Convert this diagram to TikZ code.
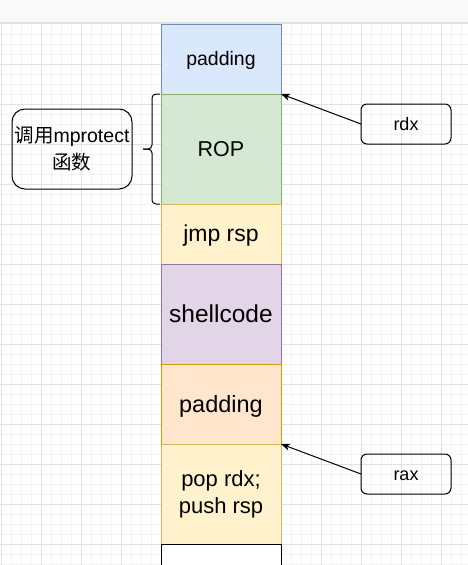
\documentclass[tikz,border=0pt]{standalone}
\usepackage{fontspec}
\setmainfont{Liberation Sans}
\newfontfamily\cjk{Noto Sans CJK SC}
\usetikzlibrary{positioning,arrows.meta}
\definecolor{barfill}{HTML}{F9F9F9}
\definecolor{barline}{HTML}{E2E2E2}
\definecolor{gridminor}{HTML}{F3F3F3}
\definecolor{gridmajor}{HTML}{E1E1E1}
\definecolor{bluefill}{HTML}{DAE8FC}
\definecolor{blueline}{HTML}{6C8EBF}
\definecolor{greenfill}{HTML}{D5E8D4}
\definecolor{greenline}{HTML}{82B366}
\definecolor{yellowfill}{HTML}{FFF2CC}
\definecolor{yellowline}{HTML}{D6B656}
\definecolor{purplefill}{HTML}{E1D5E7}
\definecolor{purpleline}{HTML}{9673A6}
\definecolor{orangefill}{HTML}{FFE6CC}
\definecolor{orangeline}{HTML}{D79B00}
\tikzset{
  blk/.style={draw, line width=1pt, minimum width=120pt, inner sep=0pt, outer sep=0pt, align=center},
  one/.style={text height=0.9*#1pt, text depth=0.21*#1pt},
  reg/.style={draw, line width=1pt, rounded corners=6pt, minimum width=90pt, minimum height=40pt,
    inner sep=0pt, outer sep=0pt, align=center},
  ptr/.style={line width=1pt, -{Stealth[length=9pt,width=7pt,inset=2.5pt]}}
}
\begin{document}
\begin{tikzpicture}[x=1pt,y=-1pt]
        \clip (0,0) rectangle (468,565);
        % 上のバー
        \fill[barfill] (0,0) rectangle (468,22);
        \draw[barline, line width=1.5pt] (0,22.75) -- (468,22.75);
        % 方眼
        \foreach \x in {1,11,...,461} \draw[gridminor, line width=1pt] (\x,24) -- (\x,565);
        \foreach \y in {34,44,...,564} \draw[gridminor, line width=1pt] (0,\y) -- (468,\y);
        \foreach \x in {1,41,...,441} \draw[gridmajor, line width=1pt] (\x,24) -- (\x,565);
        \foreach \y in {64,104,...,544} \draw[gridmajor, line width=1pt] (0,\y) -- (468,\y);
        % スタックの各ブロック
        \node[blk, one=19.5, fill=bluefill, draw=blueline, minimum height=70pt, anchor=north,
          font=\fontsize{19.5}{24}\selectfont] (pad1) at (221,24) {padding};
        \node[blk, one=21.5, fill=greenfill, draw=greenline, minimum height=110pt, below=0pt of pad1,
          font=\fontsize{21.5}{26}\selectfont] (rop) {ROP};
        \node[blk, one=23, fill=yellowfill, draw=yellowline, minimum height=60pt, below=0pt of rop,
          font=\fontsize{23}{28}\selectfont] (jmp) {jmp rsp};
        \node[blk, one=24.5, fill=purplefill, draw=purpleline, minimum height=100pt, below=0pt of jmp,
          font=\fontsize{24.5}{29}\selectfont] (shell) {shellcode};
        \node[blk, one=23.5, fill=orangefill, draw=orangeline, minimum height=80pt, below=0pt of shell,
          font=\fontsize{23.5}{28}\selectfont] (pad2) {padding};
        \node[blk, fill=yellowfill, draw=yellowline, minimum height=100pt, below=0pt of pad2,
          font=\fontsize{22}{27}\selectfont] (pop) {pop rdx;\\push rsp};
        \node[blk, fill=white, draw=black, minimum height=40pt, below=0pt of pop] (blank) {};
        % レジスタ
        \node[reg, one=18, font=\fontsize{18}{22}\selectfont] (rdx) at (406,124) {rdx};
        \node[reg, one=18, font=\fontsize{18}{22}\selectfont] (rax) at (406,474) {rax};
        \draw[ptr] (rdx.west) -- (rop.north east);
        \draw[ptr] (rax.west) -- (pop.north east);
        % 左の説明と括弧
        \node[reg, minimum width=120pt, minimum height=80pt, rounded corners=13pt,
          font=\fontsize{19.5}{27}\selectfont] (call) at (72,149) {{\cjk 调用}mprotect\\{\cjk 函数}};
        \draw[line width=1pt, rounded corners=4pt] ([xshift=-1pt]rop.north west)
          -| ([xshift=-9pt]rop.west) -- ([xshift=-18pt]rop.west);
        \draw[line width=1pt, rounded corners=4pt] ([xshift=-18pt]rop.west)
          -- ([xshift=-9pt]rop.west) |- ([xshift=-1pt]rop.south west);
      \end{tikzpicture}
\end{document}
